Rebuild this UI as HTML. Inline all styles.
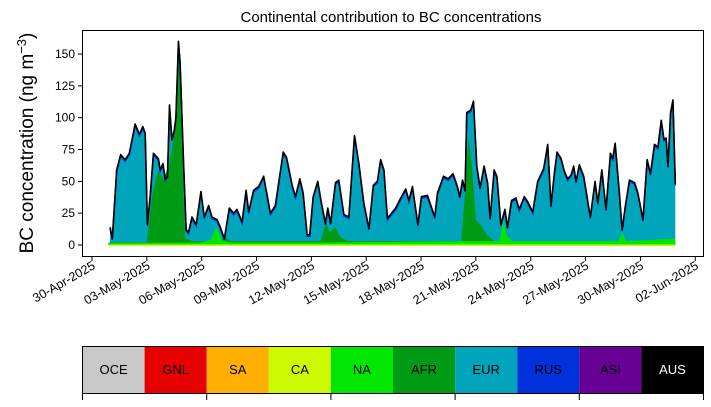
<!DOCTYPE html>
<html><head><meta charset="utf-8"><style>
body{margin:0;background:#fff;width:711px;height:402px;overflow:hidden;font-family:"Liberation Sans","DejaVu Sans",sans-serif}
</style></head><body>
<svg id="c" width="711" height="402" xmlns="http://www.w3.org/2000/svg" font-family="Liberation Sans, DejaVu Sans, sans-serif"></svg>
<script>
const tDays=[0.99,1.11,1.35,1.57,1.81,2.04,2.36,2.59,2.78,2.91,3.03,3.18,3.36,3.63,3.73,3.88,4.00,4.13,4.24,4.37,4.50,4.59,4.73,4.82,5.01,5.15,5.28,5.47,5.70,5.96,6.14,6.38,6.56,6.84,7.02,7.24,7.51,7.75,7.93,8.21,8.43,8.57,8.84,9.12,9.39,9.76,10.03,10.46,10.64,10.95,11.13,11.37,11.55,11.77,11.91,12.10,12.35,12.54,12.77,12.90,13.05,13.32,13.50,13.78,14.05,14.36,14.60,14.87,15.15,15.39,15.61,15.79,15.97,16.16,16.61,16.89,17.16,17.34,17.53,17.83,18.02,18.35,18.75,18.90,19.23,19.48,19.75,19.99,20.12,20.27,20.41,20.50,20.72,20.87,21.05,21.23,21.45,21.64,21.78,22.00,22.15,22.37,22.59,22.73,22.95,23.19,23.37,23.65,23.83,24.11,24.38,24.71,24.93,25.11,25.29,25.44,25.66,25.84,26.02,26.21,26.35,26.48,26.66,26.90,27.26,27.52,27.67,27.89,28.12,28.36,28.49,28.62,28.85,29.00,29.17,29.40,29.68,29.86,30.14,30.37,30.55,30.77,30.96,31.14,31.29,31.41,31.51,31.65,31.78,31.91];
const total=[14,5,59,71,67,72,95,87,93,88,16,38,72,68,59,64,52,54,110,83,90,100,160,143,64,12,10,22,16,42,22,31,22,20,14,5,29,25,28,18,43,26,43,46,54,25,31,73,69,47,38,52,41,8,8,38,50,34,17,29,17,49,51,24,22,86,64,33,13,47,50,67,59,21,29,37,44,35,46,16,38,39,22,41,54,52,56,46,38,51,43,104,106,113,62,45,62,49,21,59,54,16,28,14,35,37,28,38,34,26,50,60,79,31,56,73,68,58,52,55,62,50,63,54,22,50,33,59,28,72,68,80,41,12,30,51,49,41,20,67,56,79,77,98,83,84,62,104,114,48];
const afrT=[0.9,3.0,3.3,3.6,3.9,4.2,4.4,4.6,4.73,4.85,5.0,5.1,5.5,7.0,7.3,7.6,12.5,12.8,13.0,13.3,13.6,14.0,20.2,20.4,20.6,20.8,21.0,21.3,21.6,22.0,31.9];
const afrV=[2,2,40,58,52,62,78,100,150,120,40,5,3,3,6,3,3,18,10,14,6,3,3,40,85,60,20,15,8,3,3];
const naT=[0.9,6,6.5,6.8,7.1,7.5,13,20,22.3,22.5,22.7,23,28.8,29,29.2,31.9];
const naV=[1.5,2,4,14,4,2,2,3,3,20,7,3,3,10,3,5];
const yTicks=[0,25,50,75,100,125,150];
const xTickLabels=["30-Apr-2025","03-May-2025","06-May-2025","09-May-2025","12-May-2025","15-May-2025","18-May-2025","21-May-2025","24-May-2025","27-May-2025","30-May-2025","02-Jun-2025"];
const regions=["OCE","GNL","SA","CA","NA","AFR","EUR","RUS","ASI","AUS"];
const regionColors=["#c8c8c8","#e60000","#ffaf00","#cdfa00","#00e600","#009b14","#00a5bc","#0032dc","#690096","#000000"];

const svg=document.getElementById('c');const NS="http://www.w3.org/2000/svg";
const X=d=>92+d*18.28, Y=v=>245-v*1.273;
function el(tag,attrs,parent){const e=document.createElementNS(NS,tag);for(const k in attrs)e.setAttribute(k,attrs[k]);(parent||svg).appendChild(e);return e;}
function area(ts,vs){let p=`M${X(ts[0])},${Y(0)}`;ts.forEach((t,i)=>p+=`L${X(t)},${Y(vs[i])}`);return p+`L${X(ts[ts.length-1])},${Y(0)}Z`;}
function line(ts,vs,dy){return ts.map((t,i)=>(i?'L':'M')+X(t)+','+(Y(vs[i])+(dy||0))).join('');}

let e=el('text',{x:391,y:22,'text-anchor':'middle','font-size':15});e.textContent="Continental contribution to BC concentrations";


e=el('path',{d:area(tDays,total),fill:regionColors[6]});

e=el('path',{d:area(afrT,afrV),fill:regionColors[5]});

e=el('path',{d:area(naT,naV),fill:regionColors[4]});

e=el('rect',{x:X(tDays[0]),y:Y(0)-0.5,width:X(tDays[tDays.length-1])-X(tDays[0]),height:1.5,fill:regionColors[3]});

e=el('path',{d:line(tDays,total,1.5),fill:'none',stroke:regionColors[7],'stroke-width':1.5});

e=el('path',{d:line(tDays,total),fill:'none',stroke:'#000','stroke-width':1.6,'stroke-linejoin':'round'});


e=el('rect',{x:82.5,y:30.5,width:621,height:226,fill:'none',stroke:'#000','stroke-width':1});


yTicks.forEach(v=>{const y=Y(v);
 el('line',{x1:78,x2:82.5,y1:y,y2:y,stroke:'#000'});
 const t=el('text',{x:75,y:y+4,'text-anchor':'end','font-size':12});t.textContent=v;
 });
xTickLabels.forEach((s,i)=>{const x=X(i*3);
 el('line',{x1:x,x2:x,y1:256.5,y2:261,stroke:'#000'});
 const t=el('text',{x:0,y:0,'text-anchor':'end','font-size':12.5,transform:`translate(${x+4},${268}) rotate(-30)`});t.textContent=s;
 });

e=el('text',{x:0,y:0,'text-anchor':'middle','font-size':19,transform:'translate(33,143) rotate(-90)'});
e.innerHTML='BC concentration (ng m<tspan dy="-7" font-size="13">−3</tspan><tspan dy="7">)</tspan>';


const bw=62.1;
regions.forEach((r,i)=>{const x=82.5+i*bw;
 const g=el('g',{});
 el('rect',{x:x,y:346.5,width:bw,height:47,fill:regionColors[i]},g);
 const t=el('text',{x:x+bw/2,y:374,'text-anchor':'middle','font-size':13,fill:r==="AUS"?"#fff":"#000"},g);t.textContent=r;});
e=el('rect',{x:82.5,y:346.5,width:621,height:47,fill:'none',stroke:'#000'});

for(let i=0;i<=5;i++){const x=82.5+i*2*bw;el('line',{x1:x,x2:x,y1:393.5,y2:400,stroke:'#000'});}
</script>
</body></html>
